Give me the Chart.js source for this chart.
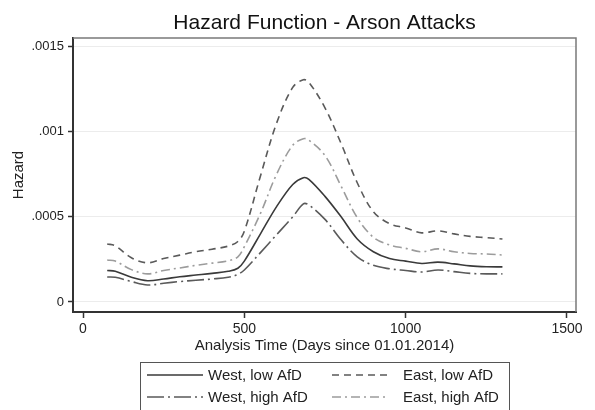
<!DOCTYPE html>
<html>
<head>
<meta charset="utf-8">
<script src="https://cdn.jsdelivr.net/npm/chart.js@4.4.1/dist/chart.umd.min.js"></script>
<style>
html,body{margin:0;padding:0;background:#fff;}
#wrap{width:595px;height:410px;position:relative;}
</style>
</head>
<body>
<div id="wrap"><canvas id="c" width="595" height="410"></canvas></div>
<script>
const days = [75,100,150,200,250,300,350,400,450,480,500,550,600,650,683,700,750,800,850,900,950,1000,1050,1100,1150,1200,1250,1300];
const westLow  = [1.85,1.80,1.45,1.25,1.35,1.48,1.58,1.68,1.80,1.98,2.40,4.00,5.60,6.90,7.30,7.20,6.20,5.00,3.70,2.95,2.55,2.40,2.26,2.34,2.24,2.12,2.07,2.06];
const eastLow  = [3.41,3.30,2.60,2.30,2.55,2.75,2.95,3.10,3.28,3.55,4.15,7.40,10.50,12.60,13.05,12.90,11.40,9.30,7.00,5.30,4.60,4.35,4.06,4.18,4.00,3.85,3.78,3.70];
const westHigh = [1.47,1.45,1.20,1.00,1.10,1.20,1.28,1.35,1.45,1.62,1.88,2.90,3.95,5.00,5.76,5.70,4.85,3.65,2.65,2.15,1.95,1.85,1.76,1.88,1.78,1.68,1.65,1.65];
const eastHigh = [2.47,2.40,1.90,1.65,1.85,2.00,2.15,2.28,2.42,2.65,3.25,5.20,7.50,9.20,9.59,9.50,8.60,6.80,4.95,3.80,3.35,3.15,2.95,3.12,2.95,2.85,2.82,2.76];
const scaleFactor = 1e-4;
const xTicks = [0,500,1000,1500];
const yTicks = [0,0.0005,0.001,0.0015];
const yTickLabels = ['0','.0005','.001','.0015'];
const seriesNames = ['West, low AfD','East, low AfD','West, high AfD','East, high AfD'];
const chartTitle = 'Hazard Function - Arson Attacks';

const toPts = arr => days.map((d,i)=>({x:d, y:arr[i]*scaleFactor}));
const FONT = '"Liberation Sans", Arial, sans-serif';

const styles = [
  {color:'#3a3a3a', dash:[]},
  {color:'#5a5a5a', dash:[7,5]},
  {color:'#5a5a5a', dash:[17,4,2,4]},
  {color:'#9c9c9c', dash:[9,4,2,4]}
];
const seriesData = [westLow, eastLow, westHigh, eastHigh];

const datasets = seriesData.map((arr,i)=>({
  label: seriesNames[i],
  data: toPts(arr),
  borderColor: styles[i].color,
  borderDash: styles[i].dash,
  borderWidth: 1.6,
  pointRadius: 0,
  tension: 0.35,
  fill: false
}));

const framePlugin = {
  id:'frame',
  afterDraw(chart){
    const {ctx, chartArea:a} = chart;
    ctx.save();
    ctx.strokeStyle = '#7a7a7a';
    ctx.lineWidth = 1.5;
    ctx.beginPath();
    ctx.moveTo(a.left, a.top);
    ctx.lineTo(a.right, a.top);
    ctx.lineTo(a.right, a.bottom);
    ctx.stroke();
    // title
    ctx.fillStyle = '#111';
    ctx.font = '21px ' + FONT;
    ctx.textAlign = 'center';
    ctx.textBaseline = 'middle';
    ctx.fillText(chartTitle, (a.left+a.right)/2, 23);
    // legend
    const bx = 140, by = 362, bw = 369, bh = 52;
    ctx.strokeStyle = '#555';
    ctx.lineWidth = 1;
    ctx.strokeRect(bx+0.5, by+0.5, bw, bh);
    ctx.font = '15px ' + FONT;
    ctx.textAlign = 'left';
    ctx.fillStyle = '#222';
    const pos = [
      {lx:147, tx:208, y:375},
      {lx:332, tx:403, y:375},
      {lx:147, tx:208, y:397},
      {lx:332, tx:403, y:397}
    ];
    chart.data.datasets.forEach((ds,i)=>{
      const p = pos[i];
      ctx.save();
      ctx.strokeStyle = ds.borderColor;
      ctx.lineWidth = 1.6;
      ctx.setLineDash(ds.borderDash);
      ctx.beginPath();
      ctx.moveTo(p.lx, p.y);
      ctx.lineTo(p.lx+56, p.y);
      ctx.stroke();
      ctx.restore();
      ctx.fillText(ds.label, p.tx, p.y+1);
    });
    ctx.restore();
  }
};

new Chart(document.getElementById('c'), {
  type:'line',
  data:{datasets},
  plugins:[framePlugin],
  options:{
    responsive:false,
    animation:false,
    layout:{padding:{left:0,right:19,top:38,bottom:0}},
    plugins:{
      legend:{display:false},
      tooltip:{enabled:false},
      title:{display:false}
    },
    scales:{
      x:{
        type:'linear',
        min:-31, max:1528,
        afterBuildTicks(s){ s.ticks = xTicks.map(v=>({value:v})); },
        afterFit(s){ s.height = 98; },
        grid:{drawOnChartArea:false, drawTicks:true, tickLength:6, tickColor:'#333', tickWidth:1.5},
        border:{display:true, color:'#333', width:2},
        ticks:{color:'#222', padding:3, maxRotation:0, autoSkip:false,
          font:{family:FONT, size:14},
          callback:(v)=>String(v)},
        title:{display:true, text:'Analysis Time (Days since 01.01.2014)', color:'#222',
          font:{family:FONT, size:15},
          padding:{top:0,bottom:55}}
      },
      y:{
        type:'linear',
        min:-0.0000588, max:0.00155,
        afterBuildTicks(s){ s.ticks = yTicks.map(v=>({value:v})); },
        afterFit(s){ s.width = 73; },
        grid:{drawOnChartArea:true, color:'#ececec', lineWidth:1, drawTicks:true, tickLength:5, tickColor:'#333', tickWidth:1.5},
        border:{display:true, color:'#333', width:2},
        ticks:{color:'#222', padding:4, autoSkip:false,
          font:{family:FONT, size:13},
          callback:(v)=>{const i = yTicks.indexOf(v); return i>=0 ? yTickLabels[i] : '';}},
        title:{display:true, text:'Hazard', color:'#222',
          font:{family:FONT, size:15},
          padding:{top:10,bottom:0}}
      }
    }
  }
});
</script>
</body>
</html>
